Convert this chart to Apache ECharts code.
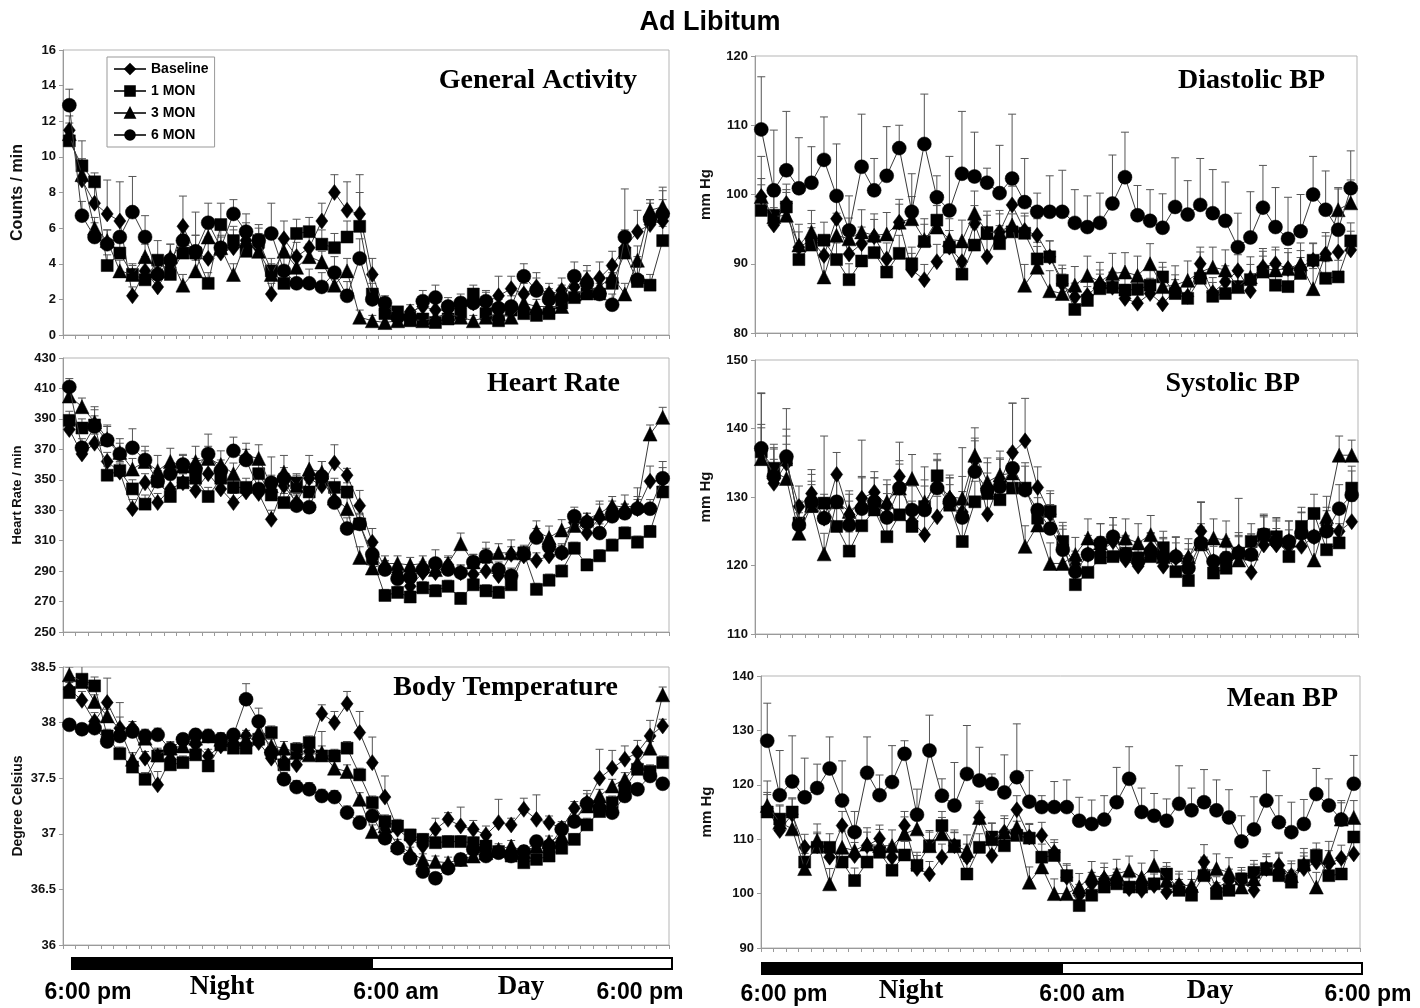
<!DOCTYPE html>
<html><head><meta charset="utf-8">
<script src="https://cdn.jsdelivr.net/npm/echarts@6/dist/echarts.min.js"></script>
<style>html,body{margin:0;padding:0;background:#fff}#c{width:1420px;height:1008px}</style>
</head><body><div id="c"></div>
<script>
// 48 half-hour bins from 6:00 pm to 6:00 pm
var bins = [];
for (var k = 0; k < 48; k++) bins.push('t' + k);

var seriesNames = ['Baseline', '1 MON', '3 MON', '6 MON'];

// General Activity (counts/min)
var gaBase = [11.5,8.7,7.4,6.8,6.4,2.2,3.6,2.7,3.8,6.1,4.6,4.3,4.6,4.9,5.3,4.9,2.3,5.4,4.4,4.9,6.4,8.0,7.0,6.8,3.4,1.4,1.0,1.3,1.6,1.4,1.4,1.6,1.8,1.8,2.2,2.6,2.3,2.7,2.3,2.5,2.7,3.1,3.2,3.9,4.9,5.8,6.2,6.4];
var ga1 = [10.9,9.5,8.6,3.9,4.6,3.4,3.1,4.2,3.4,4.6,4.6,2.9,6.2,5.3,4.7,5.3,3.6,2.9,5.7,5.8,5.1,4.9,5.5,6.1,2.3,1.2,1.3,0.8,0.9,0.7,0.9,1.2,2.3,1.2,0.8,1.4,1.2,1.1,1.2,1.8,2.1,2.3,2.3,2.9,4.6,3.0,2.8,5.3];
var ga3 = [11.3,9.0,6.0,5.3,3.6,3.4,4.4,3.6,4.4,2.8,3.6,5.5,4.9,3.4,5.3,4.7,3.4,4.7,3.8,4.4,4.1,2.8,3.6,1.0,0.8,0.7,0.8,0.9,0.8,1.0,1.2,1.0,0.8,1.0,1.2,1.0,1.8,1.6,1.6,1.6,2.3,2.5,2.7,3.3,2.3,4.2,7.0,7.2];
var ga6 = [12.9,6.7,5.5,5.1,5.5,6.9,5.5,3.4,4.2,5.3,4.7,6.3,4.9,6.8,5.8,5.3,5.7,3.6,2.9,2.9,2.7,3.5,2.2,4.3,2.0,1.8,1.0,1.0,1.9,2.1,1.6,1.8,1.8,1.9,1.5,1.6,3.3,2.5,2.0,2.1,3.3,2.9,2.3,1.7,5.5,3.1,6.5,6.8];
var gaBaseErr = [0.8,1.2,1.0,1.9,2.2,0.5,0.8,0.6,0.7,1.7,1.0,1.2,0.9,1.0,1.0,0.8,0.6,1.0,0.8,1.0,1.0,1.0,1.6,1.2,0.9,0.5,0.3,0.4,0.5,0.5,0.4,0.5,0.6,0.6,1.1,0.7,0.6,0.8,0.6,0.7,0.8,0.8,0.9,0.8,1.0,1.2,1.4,1.2];
var ga1Err = [0.6,1.4,0.5,0.6,0.8,0.5,0.5,1.1,0.6,0.7,2.3,0.6,1.2,0.8,0.7,0.7,0.7,0.6,0.8,0.8,0.8,0.8,0.9,2.9,0.6,0.4,0.3,0.3,0.3,0.3,0.3,0.4,0.5,0.4,0.3,0.4,0.4,0.3,0.4,0.5,0.5,0.6,0.6,0.6,1.0,0.8,0.6,0.8];
var ga3Err = [0.6,0.8,0.6,0.6,0.6,0.6,0.7,0.6,0.7,0.6,0.6,0.8,0.7,0.6,0.7,0.6,0.6,0.7,0.6,0.7,0.6,0.6,0.7,0.4,0.3,0.3,0.3,0.3,0.3,0.3,0.3,0.3,0.3,0.3,0.3,0.3,0.4,0.4,0.4,0.4,0.5,0.5,0.6,0.6,0.6,0.8,0.6,0.9];
var ga6Err = [0.9,0.8,0.8,0.8,0.9,2.0,1.2,0.8,0.9,0.9,0.9,1.1,1.0,0.8,1.0,0.9,1.7,1.1,0.8,0.8,0.8,0.9,0.8,1.1,0.6,0.4,0.5,0.5,0.6,0.7,0.5,0.5,0.5,0.6,0.5,0.6,0.7,0.7,0.6,0.7,0.8,0.7,0.8,0.6,2.7,1.3,0.9,1.5];

// Heart Rate (beats/min)
var hrBase = [383,367,374,362,355,331,348,335,344,348,343,354,344,335,342,341,324,346,335,351,346,361,353,333,309,292,289,280,289,289,294,289,288,290,287,301,300,297,300,302,322,315,325,331,329,331,349,350];
var hr1 = [389,384,386,353,356,344,334,349,339,348,351,339,351,345,345,354,340,335,348,342,350,345,342,321,298,274,276,273,279,277,280,272,281,277,276,281,302,278,284,290,305,294,300,307,315,309,316,342];
var hr3 = [405,398,388,377,368,357,362,356,362,359,362,364,360,354,366,364,346,355,346,357,355,338,331,299,292,295,295,294,295,291,295,308,296,300,302,302,302,316,312,317,320,324,328,333,332,333,380,391];
var hr6 = [411,371,385,376,367,371,363,349,354,360,357,367,356,369,363,344,348,351,333,332,352,335,318,321,301,291,285,286,291,295,291,289,296,300,291,287,301,312,306,302,326,322,315,326,328,331,331,351];
var hrBaseErr = [5,5,6,6,6,6,6,6,6,6,6,6,6,6,6,6,6,6,6,6,6,12,4.5,10,9,5,5,5,5,5,5,5,5,5,5,5,5,5,5,5,5,5,11,5,5,13.7,10,8];
var hr1Err = [6,6,12,6,6,6,6,6,6,6,6,6,6,6,6,6,6,6,6,6,6,6,6,6,6,4,4,4,4,4,4,4,4,4,4,4,4,4,4,4,4,4,4,4,4,4,4,6];
var hr3Err = [6,5.7,8,8,9,7,7,10,8.7,7,10,8,9,7,8,9,7,11,7,9,7,7,7,7,5,5,5,5,5,5,5,7,5,9,6,8.5,5,7,7.6,6.8,6,4,6,6,8,6,6,6.6];
var hr6Err = [5.5,6,7,10,7,12.5,9,7,7,6.7,7,13,7,9,7,7,17,7,7,7,10,7,7,7,6,5,5,5,5,9,5,5,5,5,5,5,5,6,6,6,6,6,6,6,6,6,6,11];

// Body Temperature (deg C)
var btBase = [38.30,38.20,38.01,38.18,37.95,37.95,37.68,37.44,37.67,37.82,37.80,37.70,37.79,37.87,37.88,37.82,37.68,37.65,37.62,37.74,38.08,38.00,38.17,37.91,37.64,37.33,37.04,36.95,36.89,37.04,37.13,37.07,37.04,36.99,37.10,37.08,37.22,37.13,37.10,37.05,37.23,37.28,37.50,37.59,37.67,37.73,37.88,37.97];
var bt1 = [38.27,38.39,38.33,37.88,37.72,37.60,37.49,37.70,37.62,37.64,37.71,37.61,37.80,37.77,37.77,37.85,37.91,37.62,37.76,37.82,37.70,37.70,37.77,37.53,37.28,37.11,37.07,36.99,36.95,36.92,36.93,36.93,36.92,36.89,36.84,36.80,36.74,36.77,36.80,36.87,36.95,37.08,37.20,37.28,37.41,37.58,37.56,37.64];
var bt3 = [38.43,38.37,38.19,38.06,37.94,37.67,37.86,37.71,37.77,37.79,37.86,37.88,37.85,37.86,37.85,37.91,37.79,37.77,37.73,37.71,37.73,37.59,37.56,37.31,37.02,37.07,36.90,36.83,36.77,36.75,36.74,36.77,36.80,36.83,36.86,36.89,36.84,36.89,36.93,36.98,37.14,37.25,37.34,37.43,37.49,37.64,37.77,38.25];
var bt6 = [37.98,37.94,37.95,37.83,37.88,37.92,37.88,37.89,37.76,37.85,37.89,37.88,37.85,37.89,38.21,38.01,37.73,37.49,37.42,37.40,37.34,37.33,37.19,37.10,37.16,36.96,36.87,36.78,36.66,36.60,36.69,36.77,36.86,36.80,36.83,36.80,36.84,36.93,36.89,37.04,37.11,37.27,37.23,37.19,37.34,37.40,37.52,37.45];
var btBaseErr = [0.06,0.08,0.08,0.22,0.1,0.06,0.06,0.12,0.06,0.05,0.05,0.06,0.05,0.05,0.05,0.05,0.06,0.06,0.06,0.06,0.08,0.1,0.11,0.19,0.23,0.19,0.08,0.08,0.08,0.1,0.06,0.17,0.08,0.08,0.21,0.06,0.1,0.22,0.06,0.06,0.06,0.08,0.26,0.16,0.12,0.11,0.14,0.06];
var bt1Err = [0.06,0.13,0.08,0.06,0.06,0.06,0.06,0.06,0.06,0.06,0.05,0.05,0.06,0.06,0.06,0.06,0.06,0.06,0.06,0.06,0.22,0.06,0.06,0.06,0.06,0.06,0.06,0.05,0.05,0.05,0.05,0.05,0.05,0.05,0.05,0.05,0.05,0.05,0.05,0.05,0.05,0.06,0.06,0.06,0.06,0.06,0.06,0.06];
var bt3Err = [0.07,0.06,0.06,0.06,0.24,0.06,0.06,0.06,0.06,0.06,0.06,0.06,0.06,0.06,0.06,0.06,0.06,0.06,0.06,0.06,0.06,0.06,0.06,0.06,0.06,0.05,0.05,0.05,0.05,0.05,0.05,0.05,0.05,0.05,0.05,0.05,0.05,0.05,0.05,0.05,0.06,0.06,0.06,0.06,0.06,0.06,0.06,0.07];
var bt6Err = [0.05,0.05,0.05,0.06,0.06,0.06,0.06,0.06,0.06,0.05,0.05,0.05,0.05,0.05,0.14,0.12,0.06,0.06,0.06,0.06,0.06,0.06,0.06,0.06,0.06,0.05,0.05,0.05,0.05,0.05,0.05,0.05,0.05,0.05,0.05,0.05,0.05,0.05,0.05,0.05,0.05,0.12,0.05,0.05,0.05,0.05,0.05,0.05];

// Diastolic BP (mm Hg)
var dbBase = [99.7,95.6,98.7,92.4,93.4,91.2,96.5,91.4,92.9,93.9,90.7,96.0,89.1,87.7,90.3,92.4,90.3,95.8,91.0,94.6,98.5,94.8,94.1,91.0,87.1,85.2,85.4,87.1,86.6,85.0,84.3,85.7,84.2,86.2,85.3,90.0,85.8,87.4,89.0,86.1,89.5,90.0,89.3,89.5,90.5,91.4,91.7,92.0];
var db1 = [97.7,97.0,98.2,90.6,92.7,93.4,90.6,87.7,90.4,91.6,88.8,91.5,90.0,93.2,96.3,92.4,88.5,92.7,94.5,92.9,94.6,94.4,90.7,91.0,87.6,83.4,84.7,86.4,86.6,86.2,86.3,86.9,88.1,85.7,85.0,87.9,85.3,85.7,86.7,87.7,88.8,86.9,86.7,88.6,90.5,87.9,88.1,93.3];
var db3 = [99.7,96.8,97.0,92.7,94.6,88.1,94.1,93.6,94.6,94.1,94.3,96.0,96.5,93.5,95.3,93.5,93.3,97.3,94.5,94.6,95.6,86.9,89.5,86.1,85.7,86.9,88.3,87.4,88.6,88.8,88.3,90.0,86.7,86.9,87.6,88.8,89.5,89.1,86.7,88.1,89.3,89.1,89.3,90.0,86.4,91.4,97.8,98.8];
var db6 = [109.4,100.6,103.5,100.9,101.7,105.0,99.8,94.8,104.0,100.6,102.7,106.7,97.5,107.3,99.6,97.7,103.0,102.6,101.7,100.2,102.3,98.9,97.5,97.5,97.5,95.9,95.3,95.9,98.7,102.5,97.0,96.2,95.2,98.2,97.1,98.5,97.3,96.2,92.4,93.8,98.1,95.3,93.6,94.7,100.0,97.8,94.9,100.9];
var dbBaseErr = [2.6,2.5,2.8,2.2,2.4,2.5,2.6,2.3,2.4,2.5,2.3,2.6,2.4,2.2,2.5,2.4,2.3,2.6,2.5,2.6,2.7,2.5,2.4,2.3,2.2,2.0,2.1,2.0,2.2,2.0,2.1,2.2,2.0,2.2,2.1,2.4,2.2,2.3,2.3,2.2,2.3,2.4,2.3,2.4,2.5,2.6,2.6,2.7];
var db1Err = [3.7,2.7,2.5,2.4,2.5,2.6,2.4,2.3,2.4,2.5,2.3,2.6,2.4,2.5,2.6,2.4,2.3,2.5,2.5,2.6,2.6,2.5,2.4,2.3,2.2,1.9,2.0,2.1,2.1,2.0,2.0,2.2,2.1,2.0,2.0,2.2,2.0,2.1,2.1,2.2,2.3,2.2,2.2,2.3,2.4,2.4,2.4,2.6];
var db3Err = [5.8,3.2,3.3,3.0,3.1,3.0,3.2,3.0,3.2,3.1,3.1,3.3,3.2,3.0,3.1,3.0,3.0,3.2,3.1,3.1,3.2,3.0,3.0,2.9,2.8,2.7,2.8,2.8,2.9,2.8,2.8,2.9,2.8,2.8,2.8,2.9,2.9,2.9,2.8,2.9,2.9,2.9,2.9,3.0,2.9,3.1,3.2,3.3];
var db6Err = [7.6,8.7,8.5,7.3,5.2,6.2,7.5,5.0,7.6,4.6,7.1,3.3,5.5,7.2,3.1,7.8,9.0,6.4,2.1,6.9,9.3,6.3,2.7,5.2,6.0,4.8,4.5,4.3,7.0,6.5,4.3,4.5,4.9,7.1,4.9,6.7,6.3,5.6,4.9,6.6,6.1,5.7,6.0,5.3,5.5,5.6,5.9,5.4];

// Systolic BP (mm Hg)
var sbBase = [136.8,132.0,134.9,128.6,130.5,126.9,133.3,127.4,129.8,130.7,128.8,133.0,126.4,124.5,127.1,129.8,127.8,135.4,127.5,132.2,136.5,138.2,131.4,127.5,123.0,120.1,121.6,122.0,123.5,120.8,119.9,122.5,119.9,121.1,121.0,125.0,120.6,120.4,122.0,119.0,123.0,123.0,122.8,122.8,124.2,125.9,125.0,126.4];
var sb1 = [136.6,134.2,135.4,126.2,128.6,129.1,125.7,122.1,125.8,128.1,124.2,127.4,125.7,128.6,133.1,128.8,123.5,129.3,130.5,129.6,131.3,131.3,126.9,127.9,123.5,117.2,119.0,121.1,121.3,121.8,121.1,121.3,122.6,119.1,117.8,123.0,118.9,119.6,121.8,123.5,124.5,124.2,121.3,125.7,127.6,122.3,123.3,131.3];
var sb3 = [135.6,133.7,132.7,124.7,128.8,121.7,129.3,127.9,129.3,129.6,129.3,131.3,132.7,129.3,132.0,130.0,129.8,136.1,132.2,133.2,133.5,122.8,125.9,120.3,120.3,121.6,124.0,123.3,124.2,124.0,123.3,124.5,121.3,121.6,121.3,123.3,124.0,123.7,120.8,121.8,124.5,124.2,123.7,125.0,120.8,127.1,136.1,136.1];
var sb6 = [137.1,133.0,135.9,125.9,129.3,126.9,129.3,125.9,128.3,129.3,127.0,131.3,128.1,128.1,131.3,129.3,127.0,133.7,131.0,131.5,134.2,131.0,128.1,125.4,122.3,119.1,121.6,123.3,124.2,121.6,120.6,122.0,121.3,121.3,119.6,123.3,120.6,121.1,121.8,121.6,124.5,123.5,123.5,124.7,124.2,125.0,128.3,130.3];
var sbBaseErr = [8.4,3.5,5.0,3.0,3.5,3.0,3.2,3.0,3.2,3.0,3.0,5.0,3.0,3.0,3.0,3.0,3.0,3.2,3.0,3.5,7.2,6.2,3.0,3.0,2.8,2.0,2.2,2.2,2.4,2.2,2.2,2.2,2.2,2.2,2.2,4.2,2.2,2.2,2.4,2.2,2.4,2.4,2.4,2.4,2.6,2.6,2.8,3.0];
var sb1Err = [4.0,3.5,3.5,3.0,3.2,9.8,3.0,2.8,3.0,3.0,3.0,3.0,3.0,3.0,3.2,3.0,3.0,3.0,3.0,3.0,3.2,3.2,3.0,3.0,2.8,2.2,2.2,2.4,2.4,2.4,2.4,2.4,2.4,2.4,2.4,2.6,2.4,2.4,2.4,2.6,2.6,2.6,2.6,2.8,2.8,2.8,2.8,3.2];
var sb3Err = [4.5,3.5,5.0,3.0,3.5,3.0,3.5,3.0,3.5,3.2,3.2,3.5,3.5,3.2,3.5,3.2,3.2,4.0,3.5,3.5,3.5,3.0,3.0,3.0,2.8,2.5,2.8,2.8,2.8,2.8,2.8,2.8,2.6,2.6,2.6,2.8,2.8,2.8,9.0,2.8,2.8,2.8,2.8,2.8,2.8,3.0,2.8,2.2];
var sb6Err = [8.0,4.0,7.0,3.5,4.0,3.5,4.0,3.5,10.0,3.5,3.5,4.0,3.5,6.3,4.0,3.5,10.2,4.5,4.0,4.0,9.5,4.0,3.5,3.5,3.0,2.5,2.8,2.8,2.8,2.8,2.8,2.8,2.8,2.8,2.8,6.0,2.8,2.8,3.0,3.0,3.0,3.0,3.0,3.0,3.0,3.0,3.5,3.5];

// Mean BP (mm Hg)
var mbBase = [115.6,111.6,114.6,108.5,108.8,106.7,112.5,107.0,108.8,110.1,106.7,112.5,104.6,103.6,106.7,108.8,106.7,114.0,107.0,111.3,115.4,110.4,110.7,107.6,103.0,99.7,101.8,102.7,102.4,100.9,100.6,101.5,100.3,101.5,100.6,105.8,101.0,102.4,102.1,100.6,104.6,105.2,103.3,104.6,105.8,105.5,106.5,107.3];
var mb1 = [115.0,113.7,115.0,105.8,108.5,108.5,105.8,102.4,105.8,107.6,104.3,107.1,105.2,108.8,112.5,108.8,103.6,108.5,110.4,108.8,110.7,110.2,106.7,107.0,103.3,97.8,99.7,101.2,101.8,101.2,101.2,101.8,103.6,100.6,99.7,103.3,100.0,100.6,102.7,103.9,104.6,103.3,102.1,105.2,107.0,103.3,103.6,110.4];
var mb3 = [116.2,113.1,111.9,104.6,109.8,101.8,108.5,107.9,109.1,108.8,108.8,111.0,111.9,108.8,111.0,108.8,107.9,114.0,110.1,111.3,112.2,102.1,104.9,100.0,100.0,101.2,103.3,103.0,103.6,104.3,103.0,105.2,102.4,101.5,101.5,104.0,104.6,103.9,101.2,102.7,104.6,104.9,103.3,105.5,101.2,106.7,113.7,114.0];
var mb6 = [128.1,118.1,120.6,117.7,119.4,123.0,117.1,111.3,122.2,118.1,120.5,125.7,114.5,126.3,118.0,116.2,122.0,120.8,120.2,118.6,121.4,116.9,115.9,115.9,115.9,113.4,112.8,113.6,116.8,121.1,115.0,114.3,113.4,116.5,115.3,116.8,115.3,114.0,109.6,111.8,117.1,113.1,111.3,112.8,118.3,116.2,113.6,120.2];
var mbBaseErr = [3.0,2.6,2.8,2.4,2.5,2.4,2.6,2.4,2.5,2.5,2.4,2.6,2.4,2.3,2.4,2.5,2.4,2.6,2.4,2.5,2.6,2.5,2.4,2.3,2.2,2.0,2.1,2.1,2.1,2.0,2.0,2.1,2.0,2.1,2.0,3.2,2.1,2.1,2.2,2.1,2.2,2.2,2.2,2.3,2.4,2.4,2.4,2.6];
var mb1Err = [3.2,2.6,2.6,2.4,2.5,2.5,2.4,2.3,2.4,2.5,2.3,2.5,2.4,2.5,2.6,2.4,2.3,2.5,2.5,2.5,2.6,2.5,2.4,2.4,2.2,1.9,2.0,2.1,2.1,2.0,2.0,2.1,2.1,2.0,2.0,2.1,2.0,2.1,2.1,2.2,2.2,2.2,2.2,2.3,2.3,2.3,2.3,2.5];
var mb3Err = [4.5,3.0,3.2,2.8,3.0,2.8,3.0,2.8,3.0,3.0,2.9,3.1,3.0,2.8,3.0,2.9,2.9,3.0,2.9,3.0,3.0,2.8,2.8,2.7,2.6,2.5,2.6,2.6,2.7,2.6,2.6,2.7,2.6,2.6,2.6,2.7,2.7,2.7,2.6,2.7,2.7,2.7,2.7,2.8,2.7,2.9,3.0,3.1];
var mb6Err = [6.9,8.2,8.4,7.2,4.4,5.8,7.3,3.8,6.6,3.7,6.7,2.4,4.7,6.5,3.1,7.9,8.9,6.1,1.8,6.9,9.8,5.7,2.1,4.7,5.0,4.3,4.4,4.4,6.4,5.9,4.4,4.1,4.0,7.0,4.1,6.0,5.6,5.1,4.7,6.0,5.5,4.9,5.5,4.5,4.7,4.9,3.5,5.2];

// y axis scales [min, max, interval]
var scaleGA = [0, 16, 2], scaleHR = [250, 430, 20], scaleBT = [36, 38.5, 0.5];
var scaleDB = [80, 120, 10], scaleSB = [110, 150, 10], scaleMB = [90, 140, 10];

var panels = [
  {title:'General Activity', yname:'Counts / min', sc:scaleGA,
   data:[gaBase,ga1,ga3,ga6], err:[gaBaseErr,ga1Err,ga3Err,ga6Err],
   g:{left:63,top:50,width:606,height:285}, nameSize:16, nameGap:37, tx:637, ty:82},
  {title:'Heart Rate', yname:'Heart Rate / min', sc:scaleHR,
   data:[hrBase,hr1,hr3,hr6], err:[hrBaseErr,hr1Err,hr3Err,hr6Err],
   g:{left:63,top:358,width:606,height:274}, nameSize:13, nameGap:39, tx:620, ty:385},
  {title:'Body Temperature', yname:'Degree Celsius', sc:scaleBT,
   data:[btBase,bt1,bt3,bt6], err:[btBaseErr,bt1Err,bt3Err,bt6Err],
   g:{left:63,top:667,width:606,height:278}, nameSize:14, nameGap:38, tx:618, ty:689},
  {title:'Diastolic BP', yname:'mm Hg', sc:scaleDB,
   data:[dbBase,db1,db3,db6], err:[dbBaseErr,db1Err,db3Err,db6Err],
   g:{left:755,top:56,width:602,height:277}, nameSize:15, nameGap:42, tx:1325, ty:82},
  {title:'Systolic BP', yname:'mm Hg', sc:scaleSB,
   data:[sbBase,sb1,sb3,sb6], err:[sbBaseErr,sb1Err,sb3Err,sb6Err],
   g:{left:755,top:360,width:603,height:274}, nameSize:15, nameGap:42, tx:1300, ty:385},
  {title:'Mean BP', yname:'mm Hg', sc:scaleMB,
   data:[mbBase,mb1,mb3,mb6], err:[mbBaseErr,mb1Err,mb3Err,mb6Err],
   g:{left:761,top:676,width:599,height:272}, nameSize:15, nameGap:47, tx:1338, ty:700}
];

var symbols = ['diamond', 'rect', 'triangle', 'circle'];
var symSizes = [[12,16], 12, 14, 14];

function errRender(params, api) {
  var i = api.value(0), v = api.value(1), e = api.value(2);
  var p0 = api.coord([i, v]);
  var p1 = api.coord([i, v + e]);
  var st = {stroke:'#555', lineWidth:1};
  return {type:'group', children:[
    {type:'line', shape:{x1:p0[0], y1:p0[1], x2:p1[0], y2:p1[1]}, style:st},
    {type:'line', shape:{x1:p1[0] - 4, y1:p1[1], x2:p1[0] + 4, y2:p1[1]}, style:st}
  ]};
}

var grids = [], xAxes = [], yAxes = [], series = [], graphics = [];
panels.forEach(function (p, gi) {
  grids.push({left:p.g.left, top:p.g.top, width:p.g.width, height:p.g.height,
    show:true, borderColor:'#b5b5b5', borderWidth:1, backgroundColor:'#fff'});
  xAxes.push({type:'category', gridIndex:gi, data:bins, boundaryGap:true,
    axisLine:{show:true, lineStyle:{color:'#9a9a9a', width:1}},
    axisTick:{show:true, interval:0, length:4, lineStyle:{color:'#9a9a9a'}},
    axisLabel:{show:false}, splitLine:{show:false}});
  yAxes.push({type:'value', gridIndex:gi, min:p.sc[0], max:p.sc[1], interval:p.sc[2],
    name:p.yname, nameLocation:'middle', nameRotate:90, nameGap:p.nameGap,
    nameTextStyle:{fontFamily:'Liberation Sans', fontWeight:'bold', fontSize:p.nameSize, color:'#111'},
    axisLine:{show:true, lineStyle:{color:'#9a9a9a', width:1}},
    axisTick:{show:true, length:4, lineStyle:{color:'#9a9a9a'}},
    axisLabel:{fontFamily:'Liberation Sans', fontWeight:'bold', fontSize:13, color:'#111', margin:7},
    splitLine:{show:false}});
  p.data.forEach(function (arr, si) {
    var errData = arr.map(function (v, i) { return [i, v, p.err[si][i]]; });
    series.push({type:'custom', name:seriesNames[si] + ' SE', xAxisIndex:gi, yAxisIndex:gi,
      data:errData, renderItem:errRender, encode:{x:0, y:1}, clip:true, silent:true, z:1});
  });
  p.data.forEach(function (arr, si) {
    series.push({type:'line', name:seriesNames[si], xAxisIndex:gi, yAxisIndex:gi, data:arr,
      symbol:symbols[si], symbolSize:symSizes[si], showAllSymbol:true,
      lineStyle:{color:'#3a3a3a', width:1}, itemStyle:{color:'#000', borderColor:'#000', borderWidth:0.5},
      emphasis:{disabled:true}, animation:false, z:2 + si});
  });
  graphics.push({type:'text', right:1420 - p.tx, top:p.ty - 15,
    style:{text:p.title, font:'bold 28px "Liberation Serif"', fill:'#000', textAlign:'right'}});
});

// Night / Day bars and time labels
function bar(x, y, fill) {
  return {type:'rect', shape:{x:x, y:y, width:300, height:11},
    style:{fill:fill, stroke:'#000', lineWidth:2}};
}
graphics.push(bar(72, 958, '#000'), bar(372, 958, '#fff'), bar(762, 963, '#000'), bar(1062, 963, '#fff'));
function lbl(text, cx, cy, serif) {
  return {type:'text', x:cx, y:cy,
    style:{text:text, textAlign:'center', textVerticalAlign:'middle',
      font: serif ? 'bold 27px "Liberation Serif"' : 'bold 23px "Liberation Sans"', fill:'#000'}};
}
graphics.push(lbl('6:00 pm', 88, 993), lbl('Night', 222, 987, true), lbl('6:00 am', 396, 993),
  lbl('Day', 521, 987, true), lbl('6:00 pm', 640, 993),
  lbl('6:00 pm', 784, 995), lbl('Night', 911, 991, true), lbl('6:00 am', 1082, 995),
  lbl('Day', 1210, 991, true), lbl('6:00 pm', 1368, 995));

var chart = echarts.init(document.getElementById('c'), null, {renderer:'canvas'});
chart.setOption({
  backgroundColor:'#fff',
  animation:false,
  title:{text:'Ad Libitum', left:'center', top:4,
    textStyle:{fontFamily:'Liberation Sans', fontWeight:'bold', fontSize:27, color:'#000'}},
  legend:{show:true, data:seriesNames, orient:'vertical', left:107, top:57,
    itemGap:8, itemWidth:32, itemHeight:12, padding:[5,6,5,6],
    borderColor:'#999', borderWidth:1, backgroundColor:'#fff',
    textStyle:{fontFamily:'Liberation Sans', fontWeight:'bold', fontSize:14, color:'#000'},
    selectedMode:false, z:20},
  grid:grids, xAxis:xAxes, yAxis:yAxes, series:series, graphic:graphics
});
</script></body></html>
